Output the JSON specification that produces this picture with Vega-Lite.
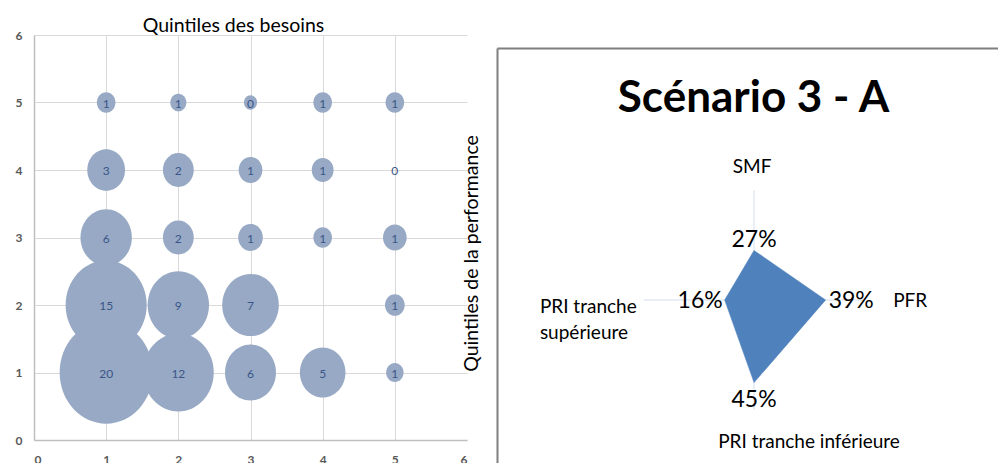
{
  "$schema": "https://vega.github.io/schema/vega-lite/v6.json",
  "background": "white",
  "padding": {"left": 15, "top": 15, "right": 0, "bottom": 0},
  "autosize": {"type": "pad"},
  "config": {"font": "Lato", "view": {"stroke": null}},
  "datasets": {
    "bulles": [
      {"besoins": 1, "performance": 5, "valeur": 0.8},
      {"besoins": 2, "performance": 5, "valeur": 0.6},
      {"besoins": 3, "performance": 5, "valeur": 0.4},
      {"besoins": 4, "performance": 5, "valeur": 0.8},
      {"besoins": 5, "performance": 5, "valeur": 0.8},
      {"besoins": 1, "performance": 4, "valeur": 3.3},
      {"besoins": 2, "performance": 4, "valeur": 2.2},
      {"besoins": 3, "performance": 4, "valeur": 1.3},
      {"besoins": 4, "performance": 4, "valeur": 1.1},
      {"besoins": 5, "performance": 4, "valeur": 0},
      {"besoins": 1, "performance": 3, "valeur": 6.1},
      {"besoins": 2, "performance": 3, "valeur": 2.2},
      {"besoins": 3, "performance": 3, "valeur": 1.4},
      {"besoins": 4, "performance": 3, "valeur": 0.8},
      {"besoins": 5, "performance": 3, "valeur": 1.3},
      {"besoins": 1, "performance": 2, "valeur": 15.2},
      {"besoins": 2, "performance": 2, "valeur": 8.7},
      {"besoins": 3, "performance": 2, "valeur": 7.4},
      {"besoins": 5, "performance": 2, "valeur": 0.9},
      {"besoins": 1, "performance": 1, "valeur": 20},
      {"besoins": 2, "performance": 1, "valeur": 11.6},
      {"besoins": 3, "performance": 1, "valeur": 6.0},
      {"besoins": 4, "performance": 1, "valeur": 4.8},
      {"besoins": 5, "performance": 1, "valeur": 0.7}
    ],
    "radar": [
      {"axe": "SMF", "valeur": 0.27, "x": 0, "y": 0.27, "ordre": 1},
      {"axe": "PFR", "valeur": 0.39, "x": 0.39, "y": 0, "ordre": 2},
      {"axe": "PRI tranche inférieure", "valeur": 0.45, "x": 0, "y": -0.45, "ordre": 3},
      {"axe": "PRI tranche supérieure", "valeur": 0.16, "x": -0.16, "y": 0, "ordre": 4}
    ],
    "axes": [
      {"axe": "SMF", "libelle": "SMF", "x": 0, "y": 0.6},
      {"axe": "PFR", "libelle": "PFR", "x": 0.6, "y": 0},
      {"axe": "PRI tranche inférieure", "libelle": "PRI tranche inférieure", "x": 0, "y": -0.6},
      {"axe": "PRI tranche supérieure", "libelle": ["PRI tranche", "supérieure"], "x": -0.6, "y": 0}
    ]
  },
  "hconcat": [
    {
      "width": 433,
      "height": 405,
      "title": {"text": "Quintiles des besoins", "frame": "group", "anchor": "middle", "dx": -17, "offset": -22, "baseline": "alphabetic", "fontSize": 19.5, "fontWeight": "normal", "color": "#000000", "font": "Lato"},
      "data": {"name": "bulles"},
      "layer": [
        {
          "mark": {"type": "point", "filled": true, "shape": "M-1,0A1,1.1,0,1,0,1,0A1,1.1,0,1,0,-1,0Z", "color": "#97A9C4", "opacity": 1},
          "encoding": {
            "x": {"field": "besoins", "type": "quantitative", "scale": {"domain": [0, 6], "nice": false},
              "axis": {"values": [0, 1, 2, 3, 4, 5, 6], "format": "d", "title": null, "grid": true,
                "gridColor": {"condition": {"test": "datum.value === 6", "value": "transparent"}, "value": "#D9D9D9"},
                "gridWidth": 1, "ticks": false, "tickSize": 0, "labelPadding": 14, "labelFontWeight": "bold", "labelFontSize": 12, "labelColor": "#595959", "domainColor": "#BFBFBF", "domainWidth": 1.5}},
            "y": {"field": "performance", "type": "quantitative", "scale": {"domain": [0, 6], "nice": false},
              "axis": {"values": [0, 1, 2, 3, 4, 5, 6], "format": "d", "grid": true, "gridColor": "#D9D9D9", "gridWidth": 1,
                "ticks": false, "tickSize": 0, "labelPadding": 12, "labelFontWeight": "bold", "labelFontSize": 12, "labelColor": "#595959", "domainColor": "#BFBFBF", "domainWidth": 1.5,
                "title": "Quintiles de la performance", "titleAngle": 270, "titleX": 443, "titleY": 218, "titleAlign": "center", "titleBaseline": "alphabetic", "titleFontSize": 19.5, "titleFontWeight": "normal", "titleColor": "#000000"}},
            "size": {"field": "valeur", "type": "quantitative", "scale": {"domain": [0, 20], "range": [0, 8649], "zero": true}, "legend": null}
          }
        },
        {
          "mark": {"type": "text", "fontSize": 12, "color": "#3A5688", "dy": 1},
          "encoding": {
            "x": {"field": "besoins", "type": "quantitative"},
            "y": {"field": "performance", "type": "quantitative"},
            "text": {"field": "valeur", "type": "quantitative", "format": ".0f"}
          }
        }
      ]
    },
    {
      "width": 501,
      "height": 430,
      "title": {"text": "Scénario 3 - A", "frame": "group", "anchor": "middle", "dx": 6, "offset": -121, "baseline": "alphabetic", "fontSize": 44, "fontWeight": "bold", "color": "#000000", "font": "Lato"},
      "layer": [
        {
          "data": {"name": "axes"},
          "mark": {"type": "rule", "color": "#D5DFEE", "strokeWidth": 1},
          "encoding": {
            "x": {"field": "x", "type": "quantitative", "scale": {"domain": [-1.4, 1.3288], "nice": false, "zero": false},
              "axis": {"orient": "top", "offset": -13, "values": [-1.4], "title": null, "labels": false, "grid": false,
                "domain": true, "domainColor": "#7F7F7F", "domainWidth": 2,
                "ticks": true, "tickSize": -420, "tickColor": "#7F7F7F", "tickWidth": 2, "tickRound": true}},
            "y": {"field": "y", "type": "quantitative", "scale": {"domain": [-0.8987, 1.4434], "nice": false, "zero": false}, "axis": null},
            "x2": {"datum": 0},
            "y2": {"datum": 0}
          }
        },
        {
          "data": {"name": "radar"},
          "mark": {"type": "line", "interpolate": "linear-closed", "filled": true, "fill": "#4F81BD", "stroke": "#4F81BD", "strokeWidth": 0.5},
          "encoding": {
            "x": {"field": "x", "type": "quantitative"},
            "y": {"field": "y", "type": "quantitative"},
            "order": {"field": "ordre", "type": "quantitative"}
          }
        },
        {
          "data": {"name": "radar"},
          "transform": [{"filter": "datum.axe === 'SMF'"}],
          "mark": {"type": "text", "fontSize": 23, "color": "#000000", "align": "center", "baseline": "alphabetic", "dy": -3},
          "encoding": {"x": {"field": "x", "type": "quantitative"}, "y": {"field": "y", "type": "quantitative"}, "text": {"field": "valeur", "type": "quantitative", "format": ".0%"}}
        },
        {
          "data": {"name": "radar"},
          "transform": [{"filter": "datum.axe === 'PFR'"}],
          "mark": {"type": "text", "fontSize": 23, "color": "#000000", "align": "left", "baseline": "middle", "dx": 3, "dy": 1},
          "encoding": {"x": {"field": "x", "type": "quantitative"}, "y": {"field": "y", "type": "quantitative"}, "text": {"field": "valeur", "type": "quantitative", "format": ".0%"}}
        },
        {
          "data": {"name": "radar"},
          "transform": [{"filter": "datum.axe === 'PRI tranche inférieure'"}],
          "mark": {"type": "text", "fontSize": 23, "color": "#000000", "align": "center", "baseline": "alphabetic", "dy": 24},
          "encoding": {"x": {"field": "x", "type": "quantitative"}, "y": {"field": "y", "type": "quantitative"}, "text": {"field": "valeur", "type": "quantitative", "format": ".0%"}}
        },
        {
          "data": {"name": "radar"},
          "transform": [{"filter": "datum.axe === 'PRI tranche supérieure'"}],
          "mark": {"type": "text", "fontSize": 23, "color": "#000000", "align": "right", "baseline": "middle", "dx": -2, "dy": 1},
          "encoding": {"x": {"field": "x", "type": "quantitative"}, "y": {"field": "y", "type": "quantitative"}, "text": {"field": "valeur", "type": "quantitative", "format": ".0%"}}
        },
        {
          "data": {"name": "axes"},
          "transform": [{"filter": "datum.axe === 'SMF'"}],
          "mark": {"type": "text", "fontSize": 19, "color": "#000000", "align": "center", "baseline": "alphabetic", "dx": -2, "dy": -17},
          "encoding": {"x": {"field": "x", "type": "quantitative"}, "y": {"field": "y", "type": "quantitative"}, "text": {"field": "libelle", "type": "nominal"}}
        },
        {
          "data": {"name": "axes"},
          "transform": [{"filter": "datum.axe === 'PFR'"}],
          "mark": {"type": "text", "fontSize": 19, "color": "#000000", "align": "left", "baseline": "middle", "dx": 29, "dy": 1},
          "encoding": {"x": {"field": "x", "type": "quantitative"}, "y": {"field": "y", "type": "quantitative"}, "text": {"field": "libelle", "type": "nominal"}}
        },
        {
          "data": {"name": "axes"},
          "transform": [{"filter": "datum.axe === 'PRI tranche inférieure'"}],
          "mark": {"type": "text", "fontSize": 19, "color": "#000000", "align": "center", "baseline": "alphabetic", "dx": 55, "dy": 38},
          "encoding": {"x": {"field": "x", "type": "quantitative"}, "y": {"field": "y", "type": "quantitative"}, "text": {"field": "libelle", "type": "nominal"}}
        },
        {
          "data": {"name": "axes"},
          "transform": [{"filter": "datum.axe === 'PRI tranche supérieure'"}],
          "mark": {"type": "text", "fontSize": 19, "color": "#000000", "align": "left", "baseline": "alphabetic", "dx": -104, "dy": 13, "lineHeight": 26},
          "encoding": {"x": {"field": "x", "type": "quantitative"}, "y": {"field": "y", "type": "quantitative"}, "text": {"field": "libelle", "type": "nominal"}}
        }
      ]
    }
  ],
  "spacing": 30,
  "bounds": "flush",
  "align": "each"
}
